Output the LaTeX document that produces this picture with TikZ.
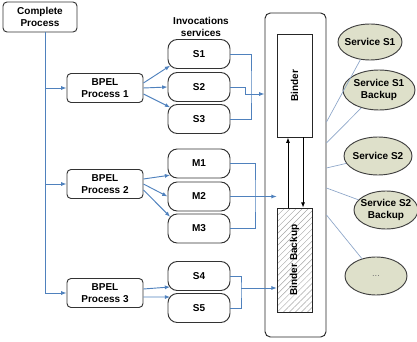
\documentclass[tikz,border=0pt]{standalone}
\usepackage{fontspec}
\setmainfont{Liberation Sans}
\usetikzlibrary{arrows.meta,shapes.geometric,patterns.meta}
\definecolor{flowblue}{RGB}{79,129,189}
\definecolor{wireblue}{RGB}{140,165,200}
\definecolor{olivefill}{RGB}{222,224,202}
\newcommand{\diafont}{\fontsize{7.5}{8.5}\selectfont\bfseries}
\tikzset{
	procbox/.style={draw=black!80, fill=white, rounded corners=3pt, minimum width=57pt, minimum height=21.75pt, align=center, inner sep=1pt, font=\diafont},
	callbox/.style={procbox, rounded corners=7pt, minimum width=46.5pt},
	bindbox/.style={draw=black!85, minimum width=26.25pt, minimum height=77.25pt},
	srvell/.style={ellipse, draw=black!75, fill=olivefill, inner sep=0pt},
	flow/.style={draw=flowblue, -{Latex[length=4pt,width=3pt]}},
	link/.style={draw=flowblue},
	wire/.style={draw=wireblue, line width=0.5pt},
}
\begin{document}
\begin{tikzpicture}[x=0.75pt, y=-0.75pt, line width=0.7pt]
			\useasboundingbox (0,0) rectangle (417,342);
			\node[procbox, minimum width=55.5pt, minimum height=22.5pt] (cp) at (40,17) {Complete\\Process};
			\node[procbox] (b1) at (105,88) {BPEL\\Process 1};
			\node[procbox] (b2) at (105,184) {BPEL\\Process 2};
			\node[procbox] (b3) at (105,293) {BPEL\\Process 3};
			\node[align=center, font=\diafont] (inv) at (201,27) {Invocations\\services};
			\node[callbox] (s1) at (199,54) {S1};
			\node[callbox] (s2) at (199,87) {S2};
			\node[callbox] (s3) at (199,119) {S3};
			\node[callbox] (m1) at (199,163.5) {M1};
			\node[callbox] (m2) at (199,196.5) {M2};
			\node[callbox] (m3) at (199,228.5) {M3};
			\node[callbox] (s4) at (199,276) {S4};
			\node[callbox] (s5) at (199,308) {S5};
			\node[draw=black!85, rounded corners=4pt, minimum width=45.75pt, minimum height=243pt] (frame) at (295.5,175) {};
			\node[bindbox, fill=white, label={[rotate=90, font=\diafont]center:Binder}] (bnd) at (294.5,85.5) {};
			\node[bindbox, minimum height=78pt, pattern={Lines[angle=45, distance=3.2pt, line width=0.35pt]}, pattern color=black!35, label={[rotate=90, font=\diafont]center:Binder Backup}] (bkp) at (294.5,260) {};
			\node[srvell, minimum width=48pt, minimum height=27pt, label={[font=\diafont]center:Service S1}] (sv1) at (370,42) {};
			\node[srvell, minimum width=54pt, minimum height=30pt, label={[font=\diafont, align=center]center:Service S1\\Backup}] (sv1b) at (379,90) {};
			\node[srvell, minimum width=51pt, minimum height=28.5pt, label={[font=\diafont]center:Service S2}] (sv2) at (378,156) {};
			\node[srvell, minimum width=48pt, minimum height=28.5pt, label={[font=\diafont, align=center]center:Service S2\\Backup}] (sv2b) at (386,210) {};
			\node[srvell, minimum width=46.5pt, minimum height=28.5pt, label={[font=\scriptsize, text=black!55]center:...}] (more) at (376,276) {};
			\coordinate (trunk) at ([xshift=3.75pt]cp.south);
			\foreach \b in {b1,b2,b3}
				\draw[flow] (trunk) |- (\b);
			\draw[flow] ([yshift=3.75pt]b1.east) -- ([shift={(2pt,2.5pt)}]s1.south west);
			\draw[flow] (b1.east) -- (s2.west);
			\draw[flow] ([yshift=-4.5pt]b1.east) -- ([shift={(2pt,-2.5pt)}]s3.north west);
			\draw[flow] ([yshift=3.75pt]b2.east) -- ([shift={(2pt,2.5pt)}]m1.south west);
			\draw[flow] (b2.east) -- (m2.west);
			\draw[flow] ([yshift=-4.5pt]b2.east) -- ([shift={(2pt,-2.5pt)}]m3.north west);
			\draw[flow] ([yshift=3pt]b3.east) -- ([shift={(2pt,3pt)}]s4.south west);
			\draw[flow] ([yshift=-3pt]b3.east) -- ([shift={(2pt,-3pt)}]s5.north west);
			\coordinate (sj) at (251,87);
			\draw[link] (s1.east) -| (sj) |- (s3.east);
			\draw[flow] (s2.east) -- ++(15,0) |- (frame.west |- 0,94);
			\coordinate (mj) at (255,196);
			\draw[link] (m1.east) -| (mj) |- (m3.east);
			\draw[flow] (m2.east) -- (m2.east -| bkp.west);
			\coordinate (nj) at (241,288);
			\draw[link] (s4.east) -| (nj) |- (s5.east);
			\draw[flow] (nj) -- (nj -| bkp.west);
			\draw[-{Latex[length=4pt,width=3pt]}] ([xshift=-4.9pt]bkp.north) -- ([xshift=-4.9pt]bnd.south);
			\draw[-{Latex[length=4pt,width=3pt]}] ([xshift=6.4pt]bnd.south) -- ([xshift=6.4pt]bkp.north);
			\draw[wire] (frame.east |- 0,122) -- (sv1);
			\draw[wire] (frame.east |- 0,143) -- (sv1b);
			\draw[wire] (frame.east |- 0,168) -- (sv2);
			\draw[wire] (frame.east |- 0,188) -- (sv2b);
			\draw[wire] (frame.east |- 0,215) -- (more);
		\end{tikzpicture}
\end{document}
